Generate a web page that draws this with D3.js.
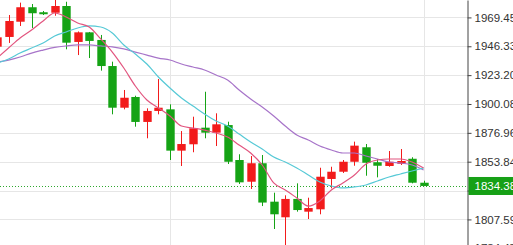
<!DOCTYPE html>
<html>
<head>
<meta charset="utf-8">
<script src="https://cdn.jsdelivr.net/npm/d3@7"></script>
<style>
  html, body { margin: 0; padding: 0; background: #fff; }
  svg { display: block; }
</style>
</head>
<body>
<svg id="chart" width="513" height="245"></svg>
<script>
// ---- data ----
const opens  = [1946.0,1953.8,1966.0,1977.6,1973.6,1973.2,1978.6,1949.8,1957.5,1951.4,1930.5,1897.1,1905.7,1885.7,1894.5,1895.8,1862.7,1867.8,1881.1,1877.1,1883.2,1855.2,1837.8,1852.6,1821.8,1809.3,1824.0,1813.8,1815.7,1840.0,1845.8,1853.8,1865.4,1853.4,1850.4,1852.2,1856.2,1837.0];
const highs  = [1957.0,1971.4,1981.3,1980.2,1974.6,1983.5,1982.0,1958.2,1957.8,1955.4,1934.0,1911.3,1906.7,1896.6,1920.1,1899.8,1878.4,1889.9,1909.9,1892.6,1885.9,1859.8,1858.4,1859.2,1829.0,1826.9,1836.5,1825.0,1849.0,1849.8,1855.2,1869.9,1868.0,1856.0,1862.4,1864.0,1857.4,1838.6];
const lows   = [1941.7,1949.0,1962.6,1961.0,1971.4,1970.8,1943.9,1939.3,1936.9,1926.8,1891.8,1895.8,1881.9,1872.6,1891.8,1855.2,1850.4,1861.4,1872.6,1866.4,1852.0,1836.0,1832.0,1818.3,1799.9,1785.0,1813.8,1807.9,1811.7,1832.5,1844.8,1850.6,1842.6,1841.3,1849.8,1851.2,1836.5,1834.4];
const closes = [1953.5,1966.6,1977.6,1972.8,1972.0,1978.6,1949.2,1957.5,1950.6,1930.5,1897.1,1905.1,1885.7,1894.5,1897.1,1862.7,1868.0,1880.6,1877.1,1883.8,1853.8,1837.3,1852.6,1821.1,1811.7,1824.0,1815.1,1816.7,1841.8,1845.8,1853.8,1866.7,1853.0,1850.6,1853.8,1854.4,1837.0,1834.4];

const maFast = [1936.9,1944.9,1953.0,1959.4,1966.6,1973.0,1969.8,1965.0,1961.8,1952.2,1941.7,1928.9,1914.5,1903.3,1896.9,1890.5,1882.4,1880.8,1879.2,1876.8,1873.6,1867.2,1860.8,1851.2,1836.8,1831.2,1824.8,1818.3,1822.4,1831.2,1836.8,1843.2,1852.0,1855.2,1856.0,1856.0,1853.6,1848.8];
const maMid  = [1932.9,1936.1,1940.9,1944.9,1949.0,1954.6,1957.8,1961.0,1962.6,1961.8,1957.0,1947.4,1940.1,1932.1,1921.7,1912.9,1904.9,1898.5,1892.1,1886.5,1882.4,1876.0,1869.6,1864.0,1857.6,1853.6,1848.8,1843.2,1837.6,1834.4,1832.8,1833.6,1835.2,1838.4,1841.6,1844.0,1846.4,1848.8];
const maSlow = [1933.7,1935.3,1937.7,1940.9,1943.3,1945.4,1946.6,1947.4,1947.4,1946.6,1945.8,1944.2,1941.7,1939.3,1936.9,1935.3,1932.1,1929.7,1927.3,1923.3,1919.3,1911.3,1904.1,1897.7,1890.5,1882.4,1875.2,1871.2,1866.4,1863.2,1860.8,1860.8,1858.4,1856.0,1853.6,1852.8,1851.2,1847.2];

const tickValues = [1969.45,1946.33,1923.20,1900.08,1876.96,1853.84,1830.71,1807.59,1784.47];
const tickLabels = ["1969.45","1946.33","1923.20","1900.08","1876.96","1853.84","1830.71","1807.59","1784.47"];
const lastPrice = 1834.38;
const lastPriceLabel = "1834.38";
const dividerIndex = [15, 37];

// ---- drawing ----
const W = 513, H = 245, axisX = 467.5;
const svg = d3.select("#chart");
const n = opens.length;

const x = d3.scaleLinear().domain([0, n - 1]).range([-3, 423.6]);
const y = d3.scaleLinear().domain([1787.09, 1983.41]).range([H, 0]);

const UP = "#f21b1b", DOWN = "#15a315";

// grid
svg.append("g").selectAll("line").data(tickValues).join("line")
  .attr("x1", 0).attr("x2", axisX)
  .attr("y1", d => Math.round(y(d)) + 0.5).attr("y2", d => Math.round(y(d)) + 0.5)
  .attr("stroke", "#e6e6e6").attr("stroke-width", 1);
svg.append("g").selectAll("line").data(dividerIndex).join("line")
  .attr("x1", d => Math.round(x(d)) + 0.5).attr("x2", d => Math.round(x(d)) + 0.5)
  .attr("y1", 0).attr("y2", H)
  .attr("stroke", "#e6e6e6").attr("stroke-width", 1);

// last price dotted line
svg.append("line")
  .attr("x1", 0).attr("x2", axisX)
  .attr("y1", Math.round(y(lastPrice)) + 0.5).attr("y2", Math.round(y(lastPrice)) + 0.5)
  .attr("stroke", "#2ea82e").attr("stroke-width", 1).attr("stroke-dasharray", "1,2");

// candles
const idx = d3.range(n);
const bw = 8.4;
const cg = svg.append("g");
cg.selectAll("line").data(idx).join("line")
  .attr("x1", i => Math.round(x(i)) + 0.5).attr("x2", i => Math.round(x(i)) + 0.5)
  .attr("y1", i => y(highs[i])).attr("y2", i => y(lows[i]))
  .attr("stroke", i => closes[i] >= opens[i] ? UP : DOWN).attr("stroke-width", 1);
cg.selectAll("rect").data(idx).join("rect")
  .attr("x", i => Math.round(x(i)) + 0.5 - bw / 2)
  .attr("width", bw)
  .attr("y", i => y(Math.max(opens[i], closes[i])))
  .attr("height", i => Math.max(1, Math.abs(y(opens[i]) - y(closes[i]))))
  .attr("fill", i => closes[i] >= opens[i] ? UP : DOWN);

// moving averages
const line = arr => d3.line().x((d, i) => x(i)).y(d => y(d)).curve(d3.curveMonotoneX)(arr);
[[maSlow, "#a774c9"], [maMid, "#56c9d6"], [maFast, "#e2557f"]].forEach(([arr, c]) => {
  svg.append("path").attr("d", line(arr)).attr("fill", "none")
    .attr("stroke", c).attr("stroke-width", 1.2);
});

// right axis
const ly = y(lastPrice);
const axis = d3.axisRight(y).tickValues(tickValues)
  .tickFormat((d, i) => tickLabels[i]).tickSize(4).tickSizeOuter(0).tickPadding(3);
const ag = svg.append("g").attr("transform", `translate(${axisX},0)`).call(axis);
ag.select(".domain").attr("stroke", "#444");
ag.selectAll(".tick line").attr("stroke", "#444");
ag.selectAll("text").attr("fill", "#333")
  .style("font-family", "'Liberation Sans', Arial, sans-serif").style("font-size", "11.5px");
// the last-price badge hides the tick label it covers (as in the reference)
ag.selectAll(".tick").filter(d => Math.abs(y(d) - ly) < 10).select("text").remove();

// last price label
svg.append("rect").attr("x", axisX + 1).attr("y", ly - 9).attr("width", W - axisX).attr("height", 18)
  .attr("fill", "#16a016");
svg.append("text").attr("x", axisX + 7).attr("y", ly).attr("dy", "0.35em")
  .attr("fill", "#fff")
  .style("font-family", "'Liberation Sans', Arial, sans-serif").style("font-size", "11.5px")
  .text(lastPriceLabel);
</script>
</body>
</html>
